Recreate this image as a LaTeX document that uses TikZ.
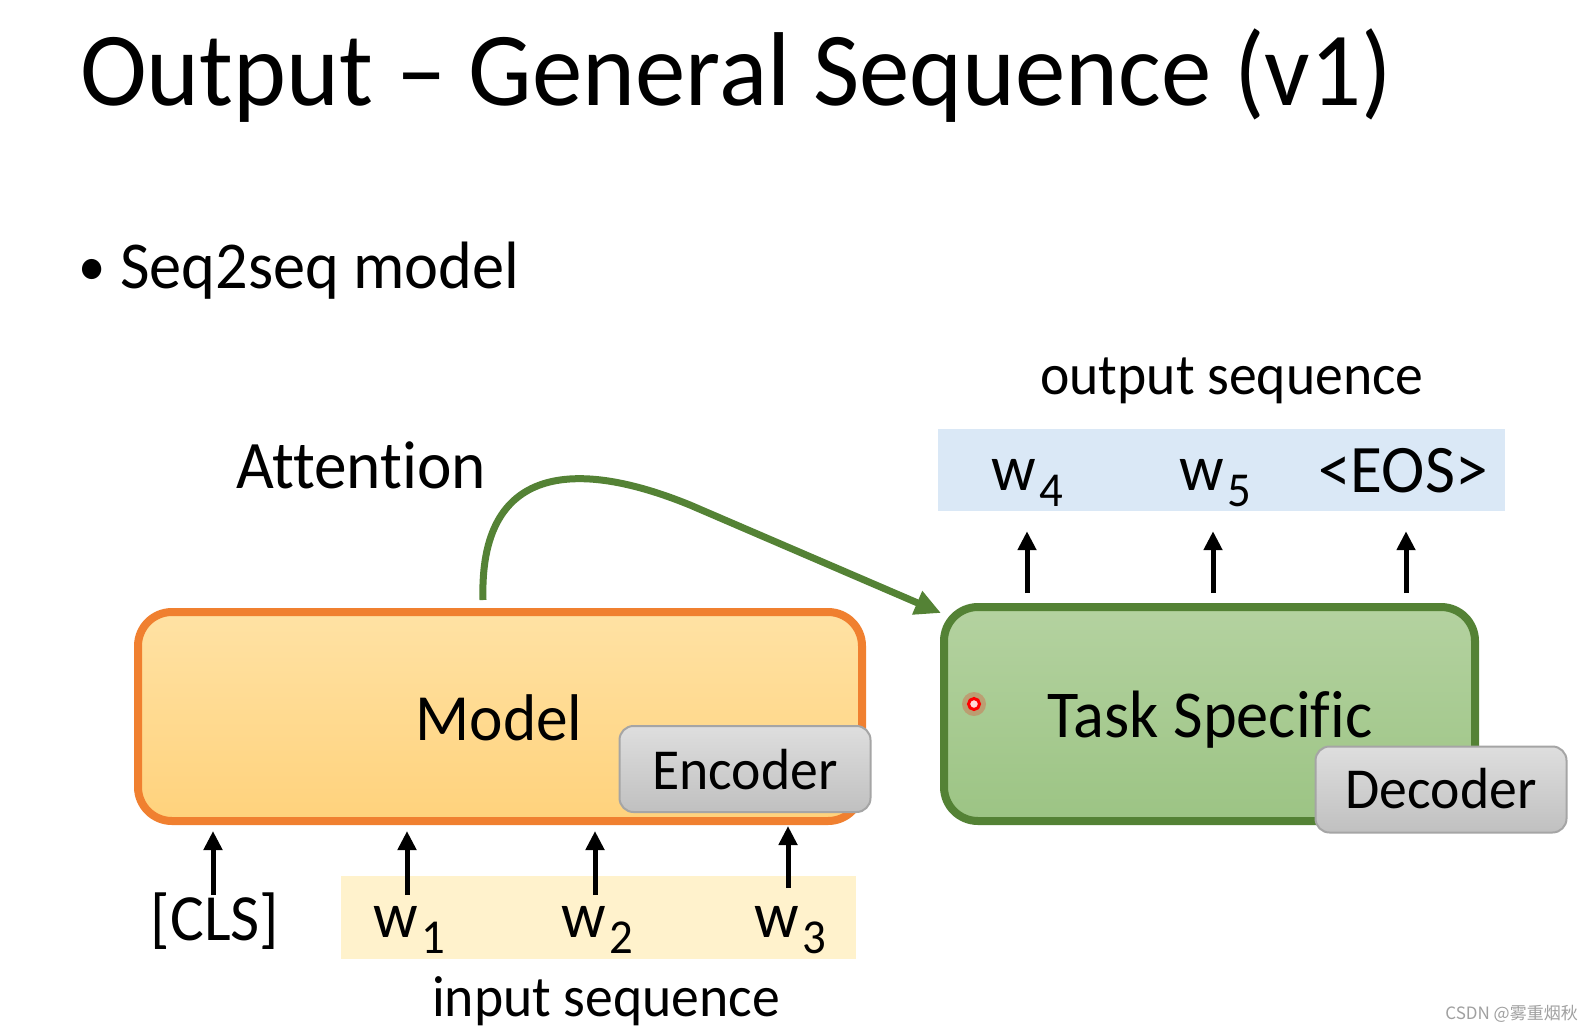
\documentclass[tikz,border=0pt]{standalone}
\usepackage{fontspec}
\setmainfont[Ligatures=NoCommon, FakeStretch=0.96]{Carlito}
\newfontfamily\cjk{Noto Sans CJK SC}
\usetikzlibrary{arrows.meta}
\definecolor{orgB}{RGB}{240,128,48}
\definecolor{orgT}{RGB}{255,226,164}
\definecolor{orgD}{RGB}{255,210,124}
\definecolor{grnB}{RGB}{84,130,53}
\definecolor{grnT}{RGB}{180,210,160}
\definecolor{grnD}{RGB}{156,196,132}
\definecolor{gryB}{RGB}{165,165,165}
\definecolor{gryT}{RGB}{222,222,222}
\definecolor{gryD}{RGB}{192,192,192}
\definecolor{bluL}{RGB}{218,232,246}
\definecolor{yelL}{RGB}{255,242,204}
\definecolor{wmk}{RGB}{160,160,160}
\newcommand\fsz[1]{\fontsize{#1}{#1}\selectfont}
\newcommand\subd[1]{\hspace{0.05em}\raisebox{-0.25em}{\scalebox{0.75}{#1}}}
\tikzset{
  modelbox/.style={draw=orgB, line width=8pt, rounded corners=34pt, top color=orgT, bottom color=orgD, inner sep=0},
  taskbox/.style={draw=grnB, line width=8pt, rounded corners=34pt, top color=grnT, bottom color=grnD, inner sep=0},
  graybox/.style={draw=gryB, line width=2pt, rounded corners=14pt, top color=gryT, bottom color=gryD, inner sep=0},
  band/.style={inner sep=0, draw=none},
  txt/.style={inner sep=0, anchor=base},
  arr/.style={-{Triangle[length=19pt,width=18pt]}, line width=5pt, black},
  attarr/.style={-{Triangle[length=26pt,width=24pt]}, line width=7pt, grnB},
}
\begin{document}
\begin{tikzpicture}[x=1pt,y=-1pt]
\useasboundingbox (0,0) rectangle (1594,1031);
\fill[white] (0,0) rectangle (1594,1031);

\node[inner sep=0, anchor=base west] (title) at (80,105) {\fsz{105}Output – General Sequence (v1)};
\node[inner sep=0, anchor=base west] (bullet) at (78,288) {\fsz{67}\raisebox{0.04em}{\scalebox{0.85}{\textbullet}}\hspace{0.22em}Seq2seq model};

% output sequence
\node[txt] (outlbl) at (1232,394) {\fsz{58}output sequence};
\node[band, fill=bluL, minimum width=567, minimum height=82] (outseq) at (1221.5,470) {};
\node[txt] (w4) at (1027,490) {\fsz{65}w\subd{4}};
\node[txt] (w5) at (1215,490) {\fsz{65}w\subd{5}};
\node[txt] (eos) at (1403,492) {\fsz{68}<EOS>};

% attention
\node[inner sep=0, anchor=base west] (attn) at (236,488) {\fsz{68}Attention};

% model
\node[modelbox, minimum width=724, minimum height=209] (model) at (500,716.5) {};
\node[txt] (mtext) at (499,740) {\fsz{66}Model};
\node[graybox, minimum width=251, minimum height=86] (enc) at (745,769) {};
\node[txt] (etext) at (745,789) {\fsz{58}Encoder};

% task specific
\node[taskbox, minimum width=531, minimum height=214] (task) at (1209.5,714) {};
\node[txt] (ttext) at (1210,737) {\fsz{67}Task Specific};
\node[graybox, minimum width=251, minimum height=86] (dec) at (1441,789.5) {};
\node[txt] (dtext) at (1441,808) {\fsz{58}Decoder};

% laser dot
\fill[red, opacity=0.22] (974,704) circle (12);
\fill[white!85!red] (974,704) circle (4.5);
\draw[red, line width=3pt] (974,704) circle (5.5);

% attention arrow
\coordinate (attS) at (483,600);
\coordinate (attE) at (941,613);
\draw[attarr] (attS) .. controls (479,465) and (575,458) .. (690,505) -- (attE);

% output arrows
\coordinate (o4) at (1027,593);
\coordinate (o5) at (1213,593);
\coordinate (o6) at (1406,593);
\draw[arr, shorten >=20pt] (o4) -- (o4 |- outseq.south);
\draw[arr, shorten >=20pt] (o5) -- (o5 |- outseq.south);
\draw[arr, shorten >=20pt] (o6) -- (o6 |- outseq.south);

% input
\node[band, fill=yelL, minimum width=515, minimum height=83] (inseq) at (598.5,917.5) {};
\node[txt] (cls) at (215,940) {\fsz{66}[CLS]};
\node[txt] (w1) at (409,937) {\fsz{65}w\subd{1}};
\node[txt] (w2) at (597,937) {\fsz{65}w\subd{2}};
\node[txt] (w3) at (790,937) {\fsz{65}w\subd{3}};
\node[txt] (inlbl) at (606,1016) {\fsz{58}input sequence};

\coordinate (a0) at (213,895);
\coordinate (a1) at (407,895);
\coordinate (a2) at (595,895);
\coordinate (a3) at (788,888);
\draw[arr, shorten >=6pt] (a0) -- (a0 |- model.south);
\draw[arr, shorten >=6pt] (a1) -- (a1 |- model.south);
\draw[arr, shorten >=6pt] (a2) -- (a2 |- model.south);
\draw[arr, shorten >=1pt] (a3) -- (a3 |- model.south);

% watermark
\node[inner sep=0, anchor=base east, text=wmk] (wm) at (1578,1019) {\cjk\fsz{17}CSDN @雾重烟秋};
\end{tikzpicture}
\end{document}
